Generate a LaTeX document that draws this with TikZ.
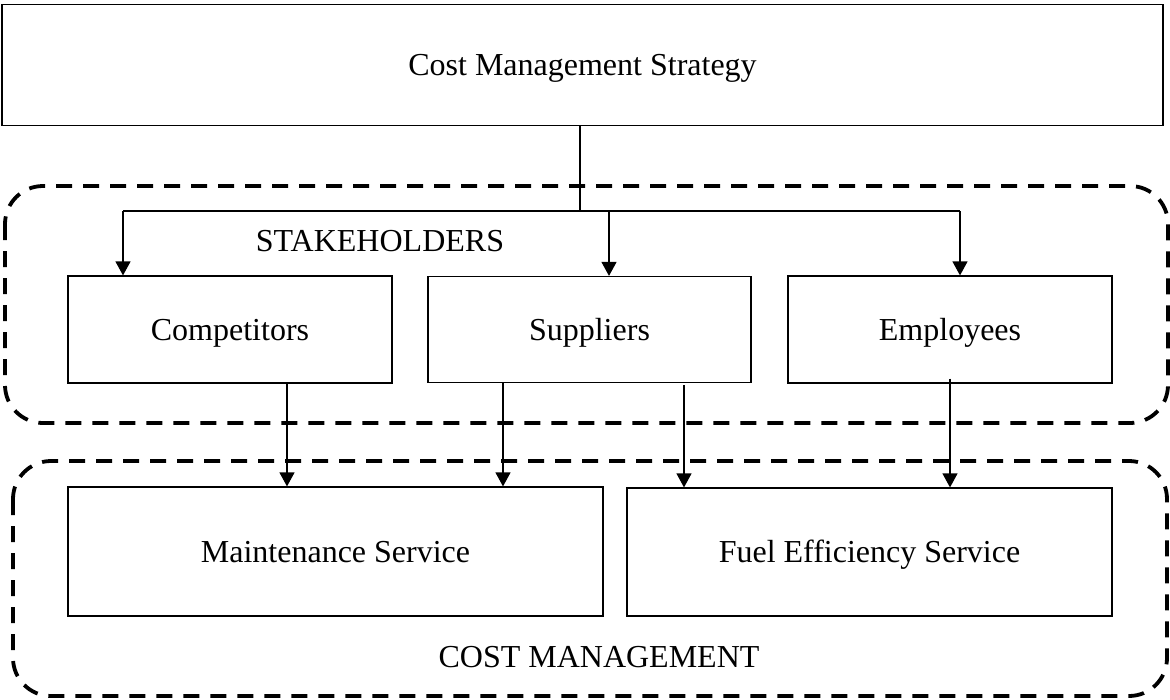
\documentclass[tikz,border=0pt]{standalone}
\usepackage{fontspec}
\setmainfont{Liberation Serif}
\usetikzlibrary{arrows.meta}
\begin{document}
\begin{tikzpicture}[x=1pt,y=-1pt,
  every node/.style={font=\fontsize{32}{37}\selectfont},
  box/.style={draw, line width=1.2pt, inner sep=0pt, text height=21pt, text depth=0pt},
  grp/.style={draw, line width=3.8pt, dash pattern=on 16pt off 11pt, rounded corners=38pt},
  lbl/.style={anchor=base, inner sep=0pt},
  conn/.style={line width=1.2pt},
  arr/.style={line width=1.2pt, -{Triangle[length=14pt,width=15pt]}}]
\useasboundingbox (0,0) rectangle (1170,699);
% groups
\draw[grp] (5,186) rectangle (1168,423);
\draw[grp] (13,461) rectangle (1167,696);
% boxes
\node[box, minimum width=1161pt, minimum height=121pt] (top) at (582.5,65) {Cost Management Strategy};
\node[box, minimum width=324pt, minimum height=107pt] (comp) at (230,329.5) {Competitors};
\node[box, minimum width=323pt, minimum height=106pt] (supp) at (589.5,329.5) {Suppliers};
\node[box, minimum width=324pt, minimum height=107pt] (emp) at (950,329.5) {Employees};
\node[box, minimum width=535pt, minimum height=129pt] (maint) at (335.5,551.5) {Maintenance Service};
\node[box, minimum width=485pt, minimum height=128pt] (fuel) at (869.5,552) {Fuel Efficiency Service};
% labels
\node[lbl] (lstake) at (380,251) {STAKEHOLDERS};
\node[lbl] (lcost) at (599,667) {COST MANAGEMENT};
% connectors
\coordinate (j) at (580,211);
\coordinate (jl) at (123,211);
\coordinate (jm) at (609,211);
\coordinate (jr) at (960,211);
\draw[conn] (top.south -| j) -- (j);
\draw[conn] (jl) -- (jr);
\draw[arr] (jl) -- (jl |- comp.north);
\draw[arr] (jm) -- (jm |- supp.north);
\draw[arr] (jr) -- (jr |- emp.north);
\coordinate (c1) at (287,0);
\coordinate (s1) at (503,0);
\coordinate (s2) at (684,0);
\coordinate (e1) at (950,0);
\draw[arr] (comp.south -| c1) -- (maint.north -| c1);
\draw[arr] (supp.south -| s1) -- (maint.north -| s1);
\draw[arr] ([yshift=-2pt]supp.south -| s2) -- (fuel.north -| s2);
\draw[arr] ([yshift=5pt]emp.south -| e1) -- (fuel.north -| e1);
\end{tikzpicture}
\end{document}
